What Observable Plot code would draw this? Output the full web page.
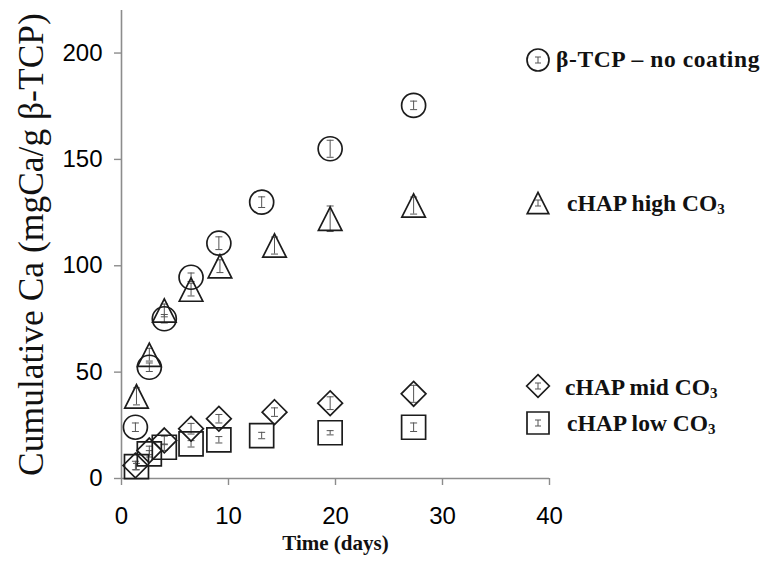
<!DOCTYPE html>
<html><head><meta charset="utf-8">
<script src="https://cdn.jsdelivr.net/npm/d3@7"></script>
<script src="https://cdn.jsdelivr.net/npm/@observablehq/plot@0.6"></script>
<style>
body{margin:0;background:#fff;}
#chart{position:relative;width:773px;height:568px;overflow:hidden;}
</style></head><body><div id="chart"></div>
<script>
// ---- data (x in axis units, y in mg Ca / g β-TCP) ----
const seriesNames = ["β-TCP – no coating", "cHAP high CO", "cHAP mid CO", "cHAP low CO"];
const seriesSub = ["", "3", "3", "3"];
const seriesShapes = ["circle", "triangle", "diamond", "square"];

const tcpX = [1.3, 2.6, 4.0, 6.5, 9.1, 13.1, 19.5, 27.3];
const tcpY = [24.1, 52.3, 75.1, 94.6, 110.6, 129.9, 155.0, 175.4];
const tcpErr = [2, 2, 2, 2, 3, 2.5, 4, 2];

const highX = [1.4, 2.6, 4.0, 6.5, 9.2, 14.3, 19.5, 27.3];
const highY = [38.6, 58.2, 79.0, 88.8, 99.8, 109.5, 122.1, 128.3];
const highErr = [4, 3, 3, 3, 3, 4, 6, 4];

const midX = [1.3, 2.6, 4.0, 6.5, 9.1, 14.3, 19.5, 27.3];
const midY = [6.1, 13.2, 17.9, 23.4, 28.1, 31.2, 35.4, 39.8];
const midErr = [2, 2, 2, 2.5, 2, 2, 3, 4];

const lowX = [1.4, 2.6, 4.0, 6.5, 9.1, 13.1, 19.5, 27.3];
const lowY = [5.6, 11.6, 14.7, 16.3, 18.2, 20.2, 21.5, 24.1];
const lowErr = [1.5, 1.5, 1.5, 1.5, 1.5, 1.5, 1, 2];

const xTicks = [0, 10, 20, 30, 40];
const yTicks = [0, 50, 100, 150, 200];

// ---- build table ----
const seriesX = [tcpX, highX, midX, lowX];
const seriesY = [tcpY, highY, midY, lowY];
const seriesE = [tcpErr, highErr, midErr, lowErr];
const rows = [];
seriesNames.forEach((name, i) => {
  seriesX[i].forEach((x, j) => rows.push({series: i, shape: seriesShapes[i], x, y: seriesY[i][j], e: seriesE[i][j]}));
});

// ---- custom symbols ----
const shapes = {
  circle: {draw(ctx, size) { const r = Math.sqrt(size / Math.PI); ctx.moveTo(r, 0); ctx.arc(0, 0, r, 0, 2 * Math.PI); }},
  triangle: {draw(ctx, size) { const r = Math.sqrt(size / Math.PI); const h = r * 0.97, w = r * 0.98; ctx.moveTo(0, -h); ctx.lineTo(w, h); ctx.lineTo(-w, h); ctx.closePath(); }},
  diamond: {draw(ctx, size) { const r = Math.sqrt(size / Math.PI) * 1.03; ctx.moveTo(0, -r); ctx.lineTo(r, 0); ctx.lineTo(0, r); ctx.lineTo(-r, 0); ctx.closePath(); }},
  square: {draw(ctx, size) { const r = Math.sqrt(size / Math.PI); ctx.rect(-r, -r, 2 * r, 2 * r); }}
};
const capSym = {draw(ctx, size) { const r = Math.sqrt(size / Math.PI); ctx.moveTo(-r, 0); ctx.lineTo(r, 0); }};

const axisGrey = "#8c8c8c";
const ink = "#1c1c1c";
const serif = "'Liberation Serif', 'Times New Roman', serif";

const marks = [
  Plot.ruleX([0], {stroke: axisGrey, strokeWidth: 1.6}),
  Plot.ruleY([0], {stroke: axisGrey, strokeWidth: 1.6}),
  Plot.axisY({ticks: yTicks, tickSize: 7, tickPadding: 12, fontSize: 24, label: null, stroke: axisGrey, fill: "#000", strokeWidth: 1.4}),
  Plot.axisX({ticks: xTicks, tickSize: 7, tickPadding: 21, fontSize: 24, label: null, stroke: axisGrey, fill: "#000", strokeWidth: 1.4}),
  Plot.text(["Cumulative Ca (mgCa/g β-TCP)"], {frameAnchor: "left", textAnchor: "middle", dx: -90, rotate: -90, fontSize: 35.5, fontFamily: serif, fill: "#111"}),
  Plot.text(["Time (days)"], {frameAnchor: "bottom", textAnchor: "middle", dy: 71, fontSize: 21, fontWeight: "bold", fontFamily: serif, fill: "#111"}),
  // error bars
  Plot.ruleX(rows, {x: "x", y1: d => d.y - d.e, y2: d => d.y + d.e, stroke: "#555", strokeWidth: 1}),
  Plot.dot(rows, {x: "x", y: d => d.y - d.e, symbol: () => capSym, r: 3.5, stroke: "#555", strokeWidth: 1}),
  Plot.dot(rows, {x: "x", y: d => d.y + d.e, symbol: () => capSym, r: 3.5, stroke: "#555", strokeWidth: 1}),
  // markers
  Plot.dot(rows, {x: "x", y: "y", symbol: d => shapes[d.shape], r: 12, stroke: ink, strokeWidth: 1.7, fill: "none"})
];

const plot = Plot.plot({
  width: 773, height: 568,
  marginLeft: 121, marginRight: 224, marginTop: 10, marginBottom: 90,
  x: {domain: [0, 40]},
  y: {domain: [0, 220]},
  symbol: {type: "identity"},
  style: {fontFamily: "'Liberation Sans', Arial, sans-serif", background: "white", color: "#111", overflow: "visible"},
  marks
});
document.getElementById("chart").appendChild(plot);

// ---- legend (annotation block on the right) ----
const legendPos = [
  {sx: 538, sy: 60, tx: 556, ty: 62, ls: 0.6},
  {sx: 538, sy: 203, tx: 567, ty: 206, ls: 0},
  {sx: 538, sy: 386, tx: 565, ty: 390, ls: 0},
  {sx: 538, sy: 423, tx: 567, ty: 426, ls: 0}
];
const svg = d3.select(plot);
const lg = svg.append("g").attr("text-anchor", "start");
seriesNames.forEach((name, i) => {
  const p = legendPos[i];
  const g = lg.append("g").attr("transform", `translate(${p.sx},${p.sy})`);
  g.append("path").attr("d", d3.symbol(shapes[seriesShapes[i]], Math.PI * 11 * 11)()).attr("fill", "none").attr("stroke", ink).attr("stroke-width", 1.7);
  g.append("path").attr("d", "M-3,-3H3M0,-3V3M-3,3H3").attr("fill", "none").attr("stroke", "#555").attr("stroke-width", 1);
  const t = lg.append("text").attr("x", p.tx).attr("y", p.ty).attr("dominant-baseline", "middle").attr("text-anchor", "start")
    .attr("font-family", serif).attr("font-weight", "bold").attr("font-size", 23.5).attr("letter-spacing", p.ls).attr("fill", "#111");
  t.append("tspan").text(name);
  if (seriesSub[i]) t.append("tspan").attr("font-size", 15).attr("dy", 5).text(seriesSub[i]);
});
</script>
</body></html>
